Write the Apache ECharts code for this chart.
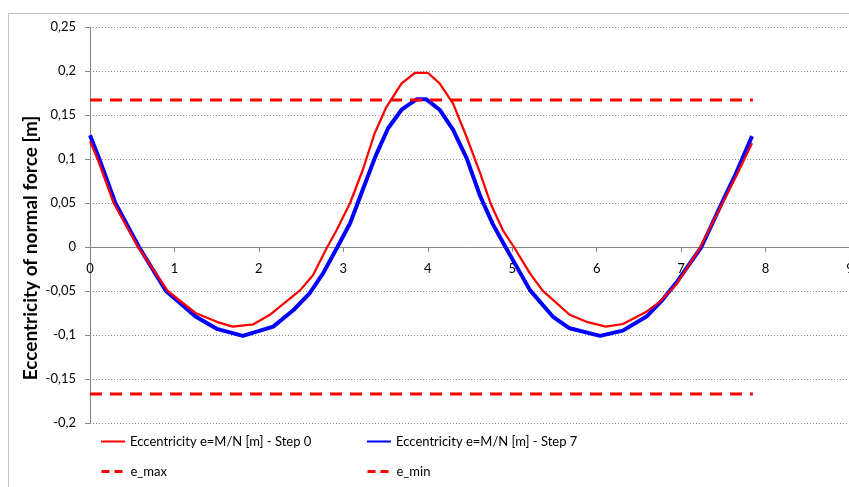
<!DOCTYPE html>
<html>
<head>
<meta charset="utf-8">
<script src="https://cdn.jsdelivr.net/npm/echarts@6/dist/echarts.min.js"></script>
<style>html,body{margin:0;padding:0;background:#fff}#c{width:849px;height:487px}</style>
</head>
<body>
<div id="c"></div>
<script>
// Step 0 (red)
var step0X = [0, 0.09, 0.28, 0.57, 0.92, 1.25, 1.53, 1.69, 1.93, 2.13, 2.49, 2.64, 2.81, 2.92, 3.08, 3.23, 3.37, 3.51, 3.69, 3.85, 4.00, 4.14, 4.30, 4.46, 4.62, 4.75, 4.89, 5.02, 5.21, 5.36, 5.68, 5.88, 6.11, 6.31, 6.59, 6.75, 6.94, 7.22, 7.49, 7.65, 7.84];
var step0Y = [0.120, 0.100, 0.050, 0.000, -0.050, -0.075, -0.086, -0.0905, -0.088, -0.077, -0.049, -0.032, 0.000, 0.019, 0.050, 0.0875, 0.129, 0.159, 0.186, 0.198, 0.198, 0.186, 0.163, 0.125, 0.084, 0.048, 0.019, 0.000, -0.030, -0.0496, -0.077, -0.085, -0.0905, -0.0875, -0.0735, -0.062, -0.043, -0.0015, 0.0497, 0.080, 0.118];
// Step 7 (blue)
var step7X = [0, 0.11, 0.30, 0.58, 0.90, 1.25, 1.50, 1.81, 2.17, 2.41, 2.60, 2.76, 2.93, 3.08, 3.23, 3.38, 3.53, 3.69, 3.87, 3.98, 4.14, 4.30, 4.46, 4.62, 4.77, 4.92, 5.21, 5.48, 5.68, 6.04, 6.31, 6.59, 6.78, 6.94, 7.24, 7.49, 7.65, 7.84];
var step7Y = [0.127, 0.100, 0.050, 0.000, -0.050, -0.079, -0.093, -0.101, -0.0905, -0.0716, -0.0526, -0.030, 0.000, 0.027, 0.065, 0.103, 0.135, 0.156, 0.168, 0.168, 0.156, 0.133, 0.101, 0.058, 0.026, 0.000, -0.049, -0.079, -0.0924, -0.101, -0.095, -0.079, -0.060, -0.041, 0.000, 0.0515, 0.0837, 0.126];
// limits
var limitX = [0, 7.85];
var eMax = [0.167, 0.167];
var eMin = [-0.167, -0.167];
var seriesNames = ['Eccentricity e=M/N [m] - Step 0', 'Eccentricity e=M/N [m] - Step 7', 'e_max', 'e_min'];
var yAxisTitle = 'Eccentricity of normal force [m]';

function pairs(xs, ys) { return xs.map(function (x, i) { return [x, ys[i]]; }); }

var font = 'Lato, "Open Sans", sans-serif';
var chart = echarts.init(document.getElementById('c'), null, {renderer: 'canvas'});
var legendBase = {
  itemWidth: 24, itemHeight: 14, itemGap: 4,
  itemStyle: {opacity: 0},
  textStyle: {fontFamily: font, fontSize: 13, color: '#000'},
  selectedMode: false
};
var dashLegend = Object.assign({}, legendBase, {lineStyle: {type: [8, 5], width: 3}});
chart.setOption({
  animation: false,
  backgroundColor: '#fff',
  graphic: [{
    type: 'rect', shape: {x: 8.5, y: 13.5, width: 900, height: 600},
    style: {fill: 'none', stroke: '#bfbfbf', lineWidth: 1}, silent: true, z: -10
  }, {
    type: 'text', x: 31, y: 248, rotation: Math.PI / 2,
    style: {text: yAxisTitle, font: 'bold 19px Lato, sans-serif', fill: '#000', align: 'center', verticalAlign: 'middle'}
  }],
  grid: [
    {left: 90, top: 27, width: 760, height: 396, outerBoundsMode: 'none', containLabel: false},
    {left: 90, top: 27, width: 760, height: 220, outerBoundsMode: 'none', containLabel: false}
  ],
  legend: [
    Object.assign({data: [seriesNames[0]], left: 95, top: 430}, legendBase),
    Object.assign({data: [seriesNames[1]], left: 361, top: 430}, legendBase),
    Object.assign({data: [seriesNames[2]], left: 95, top: 460}, dashLegend),
    Object.assign({data: [seriesNames[3]], left: 361, top: 460}, dashLegend)
  ],
  xAxis: [{
    type: 'value', min: 0, max: 9, interval: 1, gridIndex: 0,
    axisLine: {show: false}, axisTick: {show: false}, axisLabel: {show: false},
    splitLine: {show: false}
  }, {
    type: 'value', min: 0, max: 9, interval: 1, gridIndex: 1, position: 'bottom',
    axisLine: {show: true, onZero: false, lineStyle: {color: '#868686', width: 1}},
    axisTick: {show: true, length: 5, inside: false, lineStyle: {color: '#868686'}},
    axisLabel: {fontFamily: font, fontSize: 13, color: '#000', margin: 15},
    splitLine: {show: false}
  }],
  yAxis: [{
    type: 'value', min: -0.2, max: 0.25, interval: 0.05, gridIndex: 0,
    axisLine: {show: true, lineStyle: {color: '#868686', width: 1}},
    axisTick: {show: true, length: 5, lineStyle: {color: '#868686'}},
    axisLabel: {fontFamily: font, fontSize: 13, color: '#000', margin: 14,
      formatter: function (v) { return String(+v.toFixed(2)).replace('.', ','); }},
    splitLine: {show: true, lineStyle: {color: '#8c8c8c', type: [1, 2], width: 1}}
  }, {
    type: 'value', min: 0, max: 0.25, gridIndex: 1, show: false
  }],
  series: [
    {name: seriesNames[0], type: 'line', data: pairs(step0X, step0Y), symbol: 'none',
     lineStyle: {color: '#ff0000', width: 2.25}, itemStyle: {color: '#ff0000'}, z: 3},
    {name: seriesNames[1], type: 'line', data: pairs(step7X, step7Y), symbol: 'none',
     lineStyle: {color: '#0000ff', width: 4}, itemStyle: {color: '#0000ff'}, z: 2},
    {name: seriesNames[2], type: 'line', data: pairs(limitX, eMax), symbol: 'none',
     lineStyle: {color: '#ff0000', width: 3, type: [12, 8]}, itemStyle: {color: '#ff0000'}, z: 4},
    {name: seriesNames[3], type: 'line', data: pairs(limitX, eMin), symbol: 'none',
     lineStyle: {color: '#ff0000', width: 3, type: [12, 8]}, itemStyle: {color: '#ff0000'}, z: 4}
  ]
});
</script>
</body>
</html>
